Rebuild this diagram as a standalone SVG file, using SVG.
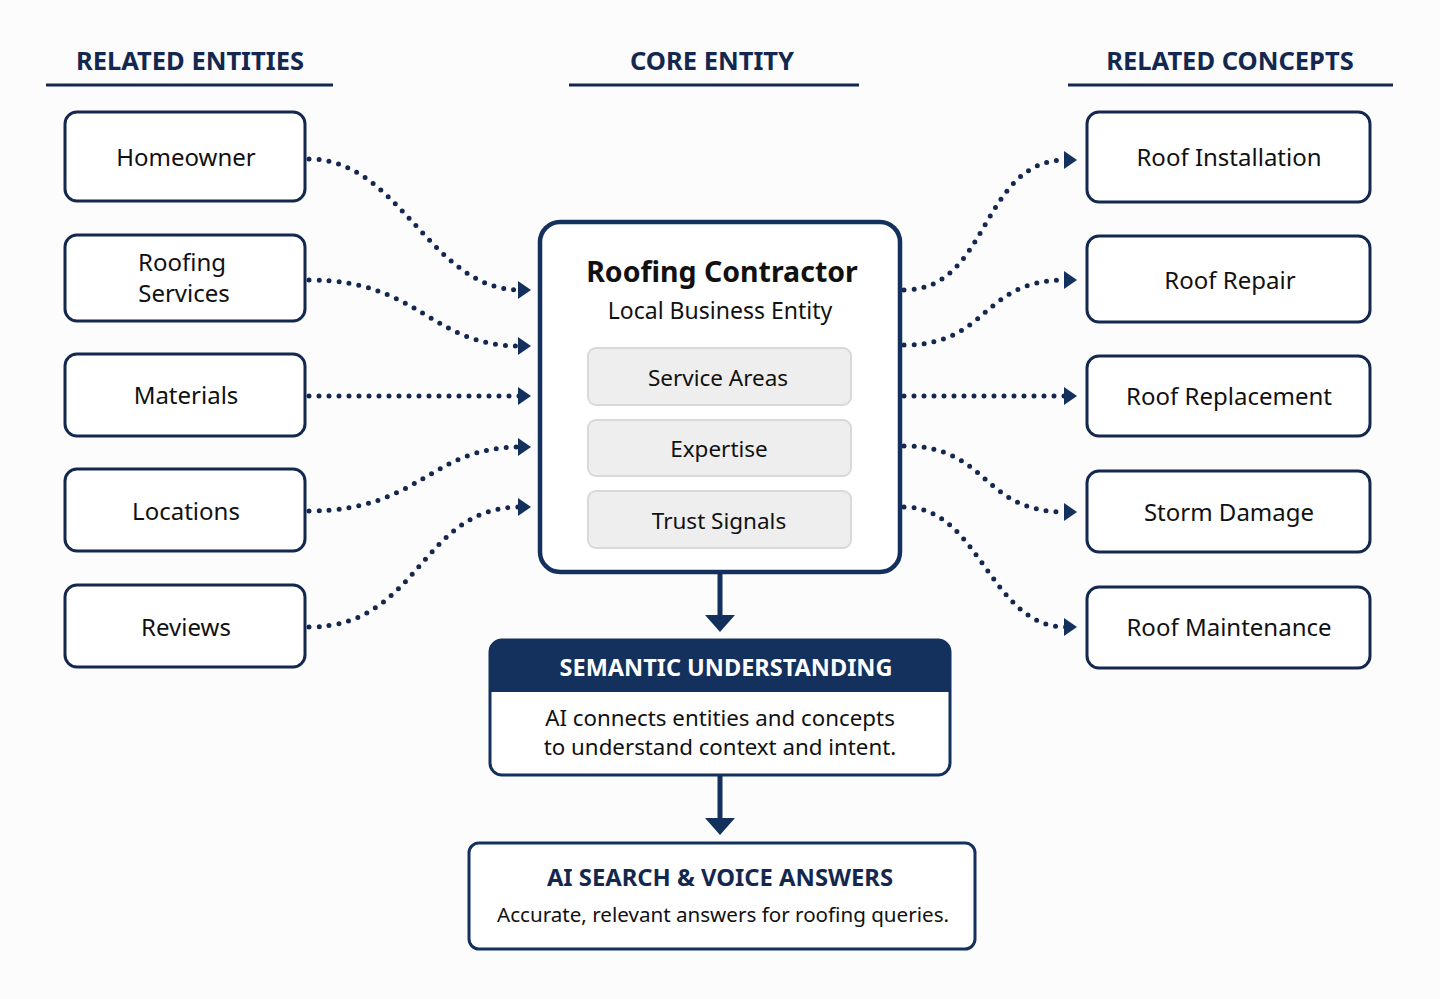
<svg xmlns="http://www.w3.org/2000/svg" width="1440" height="999" viewBox="0 0 1440 999">
<defs>
<style>
.hdr{font-family:"Noto Sans","Liberation Sans",sans-serif;font-weight:700;font-size:25.5px;fill:#14284f;text-anchor:middle}
.uline{stroke:#14284f;stroke-width:3}
.box{fill:#ffffff;stroke:#14284f;stroke-width:3}
.lbl{font-family:"Noto Sans","Liberation Sans",sans-serif;font-size:24px;fill:#111111;text-anchor:middle}
.core{fill:#ffffff;stroke:#14305c;stroke-width:4.5}
.sub{fill:#eeeeee;stroke:#d9d9d9;stroke-width:2}
.sublbl{font-family:"Noto Sans","Liberation Sans",sans-serif;font-size:22.5px;fill:#111111;text-anchor:middle}
.dot{fill:none;stroke:#14284f;stroke-width:5;stroke-linecap:round;stroke-dasharray:0 10;marker-end:url(#ah)}
.flow{stroke:#14305c;stroke-width:5}
.head{fill:#14305c}
</style>
<marker id="ah" markerUnits="userSpaceOnUse" markerWidth="14" markerHeight="20" viewBox="0 0 14 20" refX="2" refY="10" orient="auto">
<path d="M0,1 L13,10 L0,19 Z" fill="#14305c"/>
</marker>
</defs>
<rect width="1440" height="999" fill="#fcfcfd"/>

<g id="headers">
<text class="hdr" x="190" y="70">RELATED ENTITIES</text>
<line class="uline" x1="46" y1="85" x2="333" y2="85"/>
<text class="hdr" x="712" y="70">CORE ENTITY</text>
<line class="uline" x1="569" y1="85" x2="859" y2="85"/>
<text class="hdr" x="1230" y="70">RELATED CONCEPTS</text>
<line class="uline" x1="1068" y1="85" x2="1393" y2="85"/>
</g>

<g id="connectors">
<path class="dot" d="M309,159 C400,159 430,290 520,290"/>
<path class="dot" d="M309,280 C420,280 430,346 520,346"/>
<path class="dot" d="M309,396 L520,396"/>
<path class="dot" d="M309,511 C420,511 430,447 520,447"/>
<path class="dot" d="M309,627 C420,627 420,507 520,507"/>
<path class="dot" d="M904,290 C990,290 980,160 1066,160"/>
<path class="dot" d="M904,345 C990,345 980,280 1066,280"/>
<path class="dot" d="M904,396 L1066,396"/>
<path class="dot" d="M904,446 C990,446 980,512 1066,512"/>
<path class="dot" d="M904,507 C980,507 990,627 1066,627"/>
<line class="flow" x1="720" y1="573" x2="720" y2="617"/>
<path class="head" d="M705,615 L735,615 L720,632 Z"/>
<line class="flow" x1="720" y1="776" x2="720" y2="820"/>
<path class="head" d="M705,818 L735,818 L720,835 Z"/>
</g>

<g id="homeowner"><rect class="box" x="65" y="112" width="240" height="89" rx="12"/><text class="lbl" x="186" y="166">Homeowner</text></g>
<g id="roofing-services"><rect class="box" x="65" y="235" width="240" height="86" rx="12"/><text class="lbl" x="182" y="271">Roofing</text><text class="lbl" x="184" y="302">Services</text></g>
<g id="materials"><rect class="box" x="65" y="354" width="240" height="82" rx="12"/><text class="lbl" x="186" y="404">Materials</text></g>
<g id="locations"><rect class="box" x="65" y="469" width="240" height="82" rx="12"/><text class="lbl" x="186" y="520">Locations</text></g>
<g id="reviews"><rect class="box" x="65" y="585" width="240" height="82" rx="12"/><text class="lbl" x="186" y="636">Reviews</text></g>

<g id="roof-installation"><rect class="box" x="1087" y="112" width="283" height="90" rx="12"/><text class="lbl" x="1229" y="166">Roof Installation</text></g>
<g id="roof-repair"><rect class="box" x="1087" y="236" width="283" height="86" rx="12"/><text class="lbl" x="1230" y="289">Roof Repair</text></g>
<g id="roof-replacement"><rect class="box" x="1087" y="356" width="283" height="80" rx="12"/><text class="lbl" x="1229" y="405">Roof Replacement</text></g>
<g id="storm-damage"><rect class="box" x="1087" y="471" width="283" height="81" rx="12"/><text class="lbl" x="1229" y="521">Storm Damage</text></g>
<g id="roof-maintenance"><rect class="box" x="1087" y="587" width="283" height="81" rx="12"/><text class="lbl" x="1229" y="636">Roof Maintenance</text></g>

<g id="core-entity">
<rect class="core" x="540" y="222" width="360" height="350" rx="20"/>
<text x="722" y="282" font-family="Noto Sans, Liberation Sans, sans-serif" font-size="28.5" font-weight="700" fill="#111111" text-anchor="middle">Roofing Contractor</text>
<text x="720" y="319" font-family="Noto Sans, Liberation Sans, sans-serif" font-size="23" fill="#111111" text-anchor="middle">Local Business Entity</text>
<rect class="sub" x="588" y="348" width="263" height="57" rx="8"/>
<text class="sublbl" x="718" y="386">Service Areas</text>
<rect class="sub" x="588" y="420" width="263" height="56" rx="8"/>
<text class="sublbl" x="719" y="457">Expertise</text>
<rect class="sub" x="588" y="491" width="263" height="57" rx="8"/>
<text class="sublbl" x="719" y="529">Trust Signals</text>
</g>

<g id="semantic-understanding">
<rect x="490" y="640" width="460" height="135" rx="12" fill="#ffffff" stroke="#14305c" stroke-width="3"/>
<path d="M490,692 L490,652 Q490,640 502,640 L938,640 Q950,640 950,652 L950,692 Z" fill="#14305c"/>
<text x="726" y="676" font-family="Noto Sans, Liberation Sans, sans-serif" font-size="23.5" font-weight="700" fill="#ffffff" text-anchor="middle">SEMANTIC UNDERSTANDING</text>
<text x="720" y="726" font-family="Noto Sans, Liberation Sans, sans-serif" font-size="22.3" fill="#111111" text-anchor="middle">AI connects entities and concepts</text>
<text x="720" y="755" font-family="Noto Sans, Liberation Sans, sans-serif" font-size="22.3" fill="#111111" text-anchor="middle">to understand context and intent.</text>
</g>

<g id="ai-search">
<rect x="469" y="843" width="506" height="106" rx="10" fill="#ffffff" stroke="#14305c" stroke-width="3"/>
<text x="720" y="886" font-family="Noto Sans, Liberation Sans, sans-serif" font-size="23.8" font-weight="700" fill="#14284f" text-anchor="middle">AI SEARCH &amp; VOICE ANSWERS</text>
<text x="723" y="922" font-family="Noto Sans, Liberation Sans, sans-serif" font-size="20.6" fill="#111111" text-anchor="middle">Accurate, relevant answers for roofing queries.</text>
</g>
</svg>
